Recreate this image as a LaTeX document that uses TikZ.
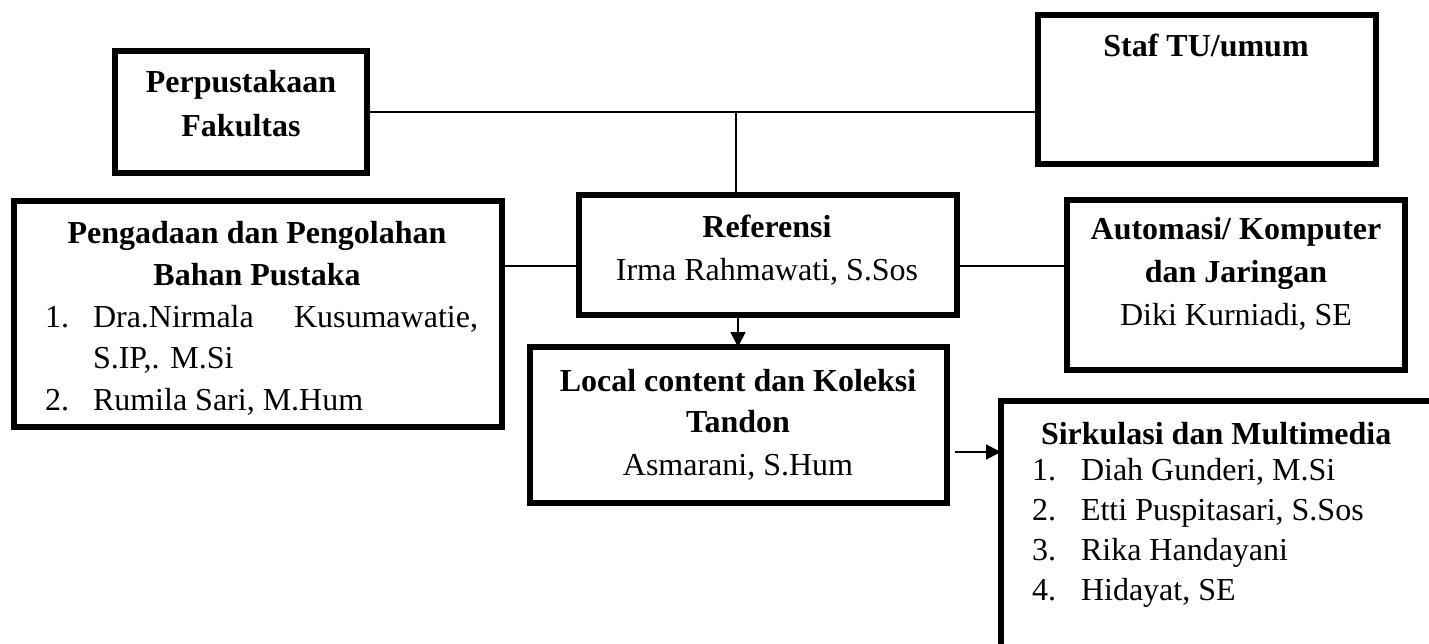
\documentclass[tikz,border=0pt]{standalone}
\usepackage{fontspec}
\setmainfont{Liberation Serif}
\usetikzlibrary{arrows.meta}
\begin{document}
\begin{tikzpicture}[x=1pt,y=-1pt,
  box/.style={draw,line width=5.5pt,inner sep=0pt,outer sep=0pt,anchor=center},
  conn/.style={line width=1.6pt},
  arr/.style={line width=1.6pt,-{Triangle[length=15pt,width=15pt]}},
  txt/.style={inner sep=0pt,outer sep=0pt,font=\fontsize{32}{40}\selectfont},
  btxt/.style={inner sep=0pt,outer sep=0pt,font=\fontsize{32}{40}\selectfont\bfseries}]
\useasboundingbox (0,0) rectangle (1429,644);
\clip (0,0) rectangle (1429,644);

% boxes
\node[box,minimum width=252pt,minimum height=122pt] (perp) at (241,112) {};
\node[box,minimum width=338pt,minimum height=149pt] (staf) at (1207,89.5) {};
\node[box,minimum width=488pt,minimum height=226pt] (peng) at (258,314) {};
\node[box,minimum width=378pt,minimum height=120pt] (ref) at (768,255) {};
\node[box,minimum width=338pt,minimum height=170pt] (auto) at (1236,285) {};
\node[box,minimum width=417pt,minimum height=156pt] (loc) at (738.5,425) {};
\node[box,minimum width=459pt,minimum height=279pt] (sirk) at (1230.5,540.5) {};

% connectors
\coordinate (j) at (736,112);
\coordinate (ly) at (0,266);
\coordinate (dx) at (738,0);
\coordinate (ry) at (955,452);
\draw[conn] (perp.east) -- (perp.east -| staf.west);
\draw[conn] (j) -- (j |- ref.north);
\draw[conn] (peng.east |- ly) -- (ref.west |- ly);
\draw[conn] (ref.east |- ly) -- (auto.west |- ly);
\draw[arr] (dx |- ref.south) -- (dx |- loc.north);
\draw[arr] (ry) -- (sirk.west |- ry);

% texts
\node[btxt,anchor=base] (t1) at (241,93) {Perpustakaan};
\node[btxt,anchor=base] (t2) at (241,137) {Fakultas};
\node[btxt,anchor=base] (t3) at (1206,57) {Staf TU/umum};

\node[btxt,anchor=base] (t4) at (257,244) {Pengadaan dan Pengolahan};
\node[btxt,anchor=base] (t5) at (257,285) {Bahan Pustaka};
\node[txt,anchor=base west] (t6) at (45,327) {1.};
\node[txt,anchor=base west] (t7) at (93,327) {Dra.Nirmala};
\node[txt,anchor=base east] (t8) at (478,327) {Kusumawatie,};
\node[txt,anchor=base west] (t9) at (93,368.5) {S.IP,. M.Si};
\node[txt,anchor=base west] (t10) at (45,410) {2.};
\node[txt,anchor=base west] (t11) at (93,410) {Rumila Sari, M.Hum};

\node[btxt,anchor=base] (t12) at (767,238) {Referensi};
\node[txt,anchor=base] (t13) at (767,280) {Irma Rahmawati, S.Sos};

\node[btxt,anchor=base] (t14) at (1236,240) {Automasi/ Komputer};
\node[btxt,anchor=base] (t15) at (1236,283) {dan Jaringan};
\node[txt,anchor=base] (t16) at (1236,325) {Diki Kurniadi, SE};

\node[btxt,anchor=base] (t17) at (738,391) {Local content dan Koleksi};
\node[btxt,anchor=base] (t18) at (738,432) {Tandon};
\node[txt,anchor=base] (t19) at (738,475) {Asmarani, S.Hum};

\node[btxt,anchor=base west] (t20) at (1041,444) {Sirkulasi dan Multimedia};
\node[txt,anchor=base west] (t21) at (1032,480) {1.};
\node[txt,anchor=base west] (t22) at (1081,480) {Diah Gunderi, M.Si};
\node[txt,anchor=base west] (t23) at (1032,520) {2.};
\node[txt,anchor=base west] (t24) at (1081,520) {Etti Puspitasari, S.Sos};
\node[txt,anchor=base west] (t25) at (1032,560) {3.};
\node[txt,anchor=base west] (t26) at (1081,560) {Rika Handayani};
\node[txt,anchor=base west] (t27) at (1032,600) {4.};
\node[txt,anchor=base west] (t28) at (1081,600) {Hidayat, SE};
\end{tikzpicture}
\end{document}
